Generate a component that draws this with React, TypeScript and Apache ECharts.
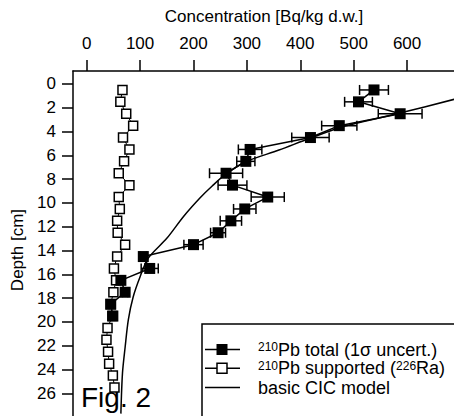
import React, { useEffect, useRef } from 'react';
import * as echarts from 'echarts';

const FONT = '"Liberation Sans", Arial, Helvetica, sans-serif';

const xTickValues = [0, 100, 200, 300, 400, 500, 600];
const yTickValues = [0, 2, 4, 6, 8, 10, 12, 14, 16, 18, 20, 22, 24, 26];

const totalDepth = [0.5, 1.5, 2.5, 3.5, 4.5, 5.5, 6.5, 7.5, 8.5, 9.5, 10.5, 11.5, 12.5, 13.5, 14.5, 15.5, 16.5, 17.5, 18.5, 19.5];
const totalValue = [538, 509, 587, 473, 419, 306, 298, 261, 273, 339, 296, 270, 246, 200, 106, 118, 64, 72, 45, 49];
const totalError = [27, 26, 41, 33, 35, 22, 17, 31, 27, 31, 21, 20, 14, 18, 6, 16, 4, 5, 3, 3];

const supportedDepth = [0.5, 1.5, 2.5, 3.5, 4.5, 5.5, 6.5, 7.5, 8.5, 9.5, 10.5, 11.5, 12.5, 13.5, 14.5, 15.5, 16.5, 17.5, 18.5, 19.5, 20.5, 21.5, 22.5, 23.5, 24.5, 25.5];
const supportedValue = [67, 63, 74, 87, 68, 80, 70, 60, 80, 60, 62, 57, 58, 72, 57, 51, 55, 50, 45, 48, 39, 37, 40, 42, 49, 52];

const modelDepth = [0.9, 1.29, 2.55, 3.53, 4.56, 5.55, 6.53, 7.56, 8.57, 9.58, 11.15, 12.97, 14.65, 16.2, 17.9, 19.8, 22.1, 24.3, 27.7];
const modelValue = [718, 688, 577, 484, 418, 360, 298, 261, 235, 212, 181, 150, 115, 100, 87, 78, 72, 67, 64];

const legendLabels = [
  '{sup|210}{m|Pb total (1σ uncert.)}',
  '{sup|210}{m|Pb supported (}{sup|226}{m|Ra)}',
  '{m|basic CIC model}',
];

export default function App() {
  const ref = useRef<HTMLDivElement>(null);

  useEffect(() => {
    const chart = echarts.init(ref.current!, null, { renderer: 'svg' });

    const totalData = totalDepth.map((d, i) => [totalValue[i], d]);
    const supportedData = supportedDepth.map((d, i) => [supportedValue[i], d]);
    const modelData = modelDepth.map((d, i) => [modelValue[i], d]);
    const errData = totalDepth.map((d, i) => [totalValue[i] - totalError[i], totalValue[i] + totalError[i], d]);

    const rich = {
      sup: { fontSize: 12, lineHeight: 11, verticalAlign: 'top', fontFamily: FONT, fill: '#000' },
      m: { fontSize: 18, lineHeight: 17, fontFamily: FONT, fill: '#000' },
    };
    const rowY = [349.5, 368.3, 387.5];

    const graphic: any[] = [
      {
        type: 'rect', z: 100,
        shape: { x: 202, y: 324, width: 320, height: 160 },
        style: { fill: '#fff', stroke: '#000', lineWidth: 1.5 },
      },
    ];
    rowY.forEach((y, i) => {
      graphic.push({
        type: 'line', z: 101,
        shape: { x1: 205, y1: y, x2: 240, y2: y },
        style: { stroke: '#000', lineWidth: 1.5 },
      });
      if (i === 0) {
        graphic.push({
          type: 'rect', z: 102,
          shape: { x: 216.5, y: y - 5.5, width: 11, height: 11 },
          style: { fill: '#000' },
        });
      } else if (i === 1) {
        graphic.push({
          type: 'rect', z: 102,
          shape: { x: 217, y: y - 5, width: 10, height: 10 },
          style: { fill: '#fff', stroke: '#000', lineWidth: 1.5 },
        });
      }
      graphic.push({
        type: 'text', z: 103,
        x: 258, y,
        style: {
          text: legendLabels[i], rich,
          fontFamily: FONT, fontSize: 18, fill: '#000',
          align: 'left', verticalAlign: 'middle',
        },
      });
    });
    graphic.push({
      type: 'text', z: 103,
      x: 81, y: 397,
      style: { text: 'Fig. 2', fontFamily: FONT, fontSize: 28, fill: '#000', align: 'left', verticalAlign: 'middle' },
    });

    const option: any = {
      animation: false,
      backgroundColor: '#fff',
      textStyle: { fontFamily: FONT, color: '#000' },
      grid: { left: 73, top: 71, right: 25, bottom: 10.9, containLabel: false },
      xAxis: {
        type: 'value',
        position: 'top',
        min: -25.66,
        max: 689.7,
        name: 'Concentration [Bq/kg d.w.]',
        nameLocation: 'middle',
        nameGap: 46,
        nameTextStyle: { fontFamily: FONT, fontSize: 17, color: '#000' },
        axisLine: { show: true, onZero: false, lineStyle: { color: '#000', width: 1.5 } },
        axisTick: { show: true, inside: false, length: 11, customValues: xTickValues, lineStyle: { color: '#000', width: 1.5 } },
        axisLabel: { show: true, margin: 19, customValues: xTickValues, fontFamily: FONT, fontSize: 17, color: '#000' },
        splitLine: { show: false },
      },
      yAxis: {
        type: 'value',
        inverse: true,
        min: -1.092,
        max: 29,
        name: 'Depth [cm]',
        nameLocation: 'middle',
        nameGap: 37,
        nameRotate: 90,
        nameTextStyle: { fontFamily: FONT, fontSize: 17, color: '#000' },
        axisLine: { show: true, onZero: false, lineStyle: { color: '#000', width: 1.5 } },
        axisTick: { show: true, inside: false, length: 11, customValues: yTickValues, lineStyle: { color: '#000', width: 1.5 } },
        axisLabel: { show: true, margin: 17, customValues: yTickValues, fontFamily: FONT, fontSize: 17, color: '#000' },
        splitLine: { show: false },
      },
      series: [
        {
          type: 'line',
          name: 'supported',
          data: supportedData,
          symbol: 'rect',
          symbolSize: 9,
          showAllSymbol: true,
          itemStyle: { color: '#fff', borderColor: '#000', borderWidth: 1.5 },
          lineStyle: { color: '#000', width: 1 },
          z: 2,
        },
        {
          type: 'line',
          name: 'model',
          data: modelData,
          symbol: 'none',
          smooth: 0.3,
          lineStyle: { color: '#000', width: 1.5 },
          z: 3,
        },
        {
          type: 'custom',
          name: 'err',
          data: errData,
          encode: { x: [0, 1], y: 2 },
          renderItem: (params: any, api: any) => {
            const lo = api.coord([api.value(0), api.value(2)]);
            const hi = api.coord([api.value(1), api.value(2)]);
            const h = 5;
            const st = { stroke: '#000', lineWidth: 1.5 };
            return {
              type: 'group',
              children: [
                { type: 'line', shape: { x1: lo[0], y1: lo[1], x2: hi[0], y2: hi[1] }, style: st },
                { type: 'line', shape: { x1: lo[0], y1: lo[1] - h, x2: lo[0], y2: lo[1] + h }, style: st },
                { type: 'line', shape: { x1: hi[0], y1: hi[1] - h, x2: hi[0], y2: hi[1] + h }, style: st },
              ],
            };
          },
          z: 4,
        },
        {
          type: 'line',
          name: 'total',
          data: totalData,
          symbol: 'rect',
          symbolSize: 11,
          showAllSymbol: true,
          itemStyle: { color: '#000' },
          lineStyle: { color: '#000', width: 1.5 },
          z: 5,
        },
      ],
      graphic,
    };

    chart.setOption(option);
    return () => chart.dispose();
  }, []);

  return (
    <div style={{ position: 'fixed', left: 0, top: 0, width: 454, height: 416, overflow: 'hidden', background: '#fff' }}>
      <div ref={ref} style={{ width: 480, height: 440 }} />
    </div>
  );
}
